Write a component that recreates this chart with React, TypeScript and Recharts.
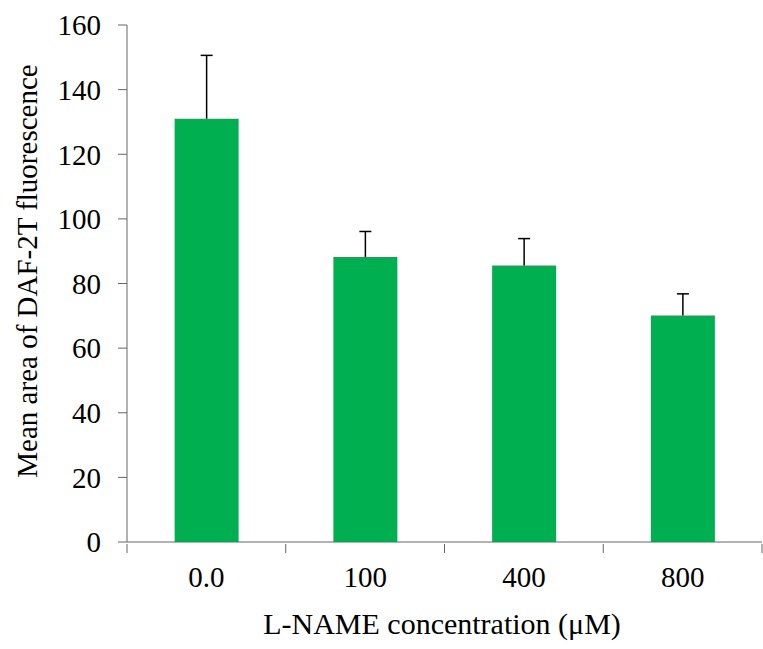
import React from 'react';
import { BarChart, Bar, XAxis, YAxis } from 'recharts';

const categories = ['0.0', '100', '400', '800'];
const meanArea = [131, 88.2, 85.6, 70.1];
const errorUp = [19.6, 7.9, 8.3, 6.7];
const yTicks = [0, 20, 40, 60, 80, 100, 120, 140, 160];

const data = categories.map((c, i) => ({ conc: c, mean: meanArea[i], err: errorUp[i] }));

const FONT = '"Liberation Serif", "Times New Roman", serif';
const AXIS = '#666';
const BAND = (763 - 127 - 1) / categories.length;

// upper error whisker, stacked on top of the mean bar
const Whisker = (props: any) => {
    const { x, y, width, height } = props;
    const cx = x + width / 2;
    return (
        <g stroke="#000" strokeWidth={1.5}>
            <line x1={cx} y1={y + height} x2={cx} y2={y} />
            <line x1={cx - 6} y1={y} x2={cx + 6} y2={y} />
        </g>
    );
};

// category label, with tick marks on the category boundaries
const CatTick = (props: any) => {
    const { x, y, payload, index } = props;
    return (
        <g>
            <line x1={x - BAND / 2} y1={y} x2={x - BAND / 2} y2={y + 9} stroke={AXIS} />
            {index === categories.length - 1 && (
                <line x1={x + BAND / 2} y1={y} x2={x + BAND / 2} y2={y + 9} stroke={AXIS} />
            )}
            <text x={x} y={y + 43} textAnchor="middle" fontFamily={FONT} fontSize={29} fill="#000">
                {payload.value}
            </text>
        </g>
    );
};

const App: React.FC = () => {
    return (
        <div style={{ position: 'absolute', left: 0, top: 0, background: '#fff' }}>
            <BarChart
                width={763}
                height={649}
                data={data}
                margin={{ top: 25, right: 1, left: 0, bottom: 0 }}
                barCategoryGap="30%"
            >
                <XAxis
                    dataKey="conc"
                    height={107}
                    axisLine={{ stroke: AXIS }}
                    tickLine={false}
                    tickSize={0}
                    tick={<CatTick />}
                    interval={0}
                    label={{
                        content: () => (
                            <text x={442} y={634} textAnchor="middle" fontFamily={FONT} fontSize={30} fill="#000">
                                L-NAME concentration (μM)
                            </text>
                        ),
                    }}
                />
                <YAxis
                    width={127}
                    domain={[0, 160]}
                    ticks={yTicks}
                    interval={0}
                    axisLine={{ stroke: AXIS }}
                    tickLine={{ stroke: AXIS }}
                    tickSize={9}
                    tickMargin={17}
                    tick={{ fontFamily: FONT, fontSize: 29, fill: '#000' }}
                    label={{
                        content: () => (
                            <text
                                x={27}
                                y={271}
                                transform="rotate(-90, 27, 271)"
                                textAnchor="middle"
                                dominantBaseline="central"
                                fontFamily={FONT}
                                fontSize={29}
                                fill="#000"
                            >
                                Mean area of DAF-2T fluorescence
                            </text>
                        ),
                    }}
                />
                <Bar dataKey="mean" stackId="a" fill="#00B050" isAnimationActive={false} />
                <Bar dataKey="err" stackId="a" shape={<Whisker />} isAnimationActive={false} />
            </BarChart>
        </div>
    );
};

export default App;
